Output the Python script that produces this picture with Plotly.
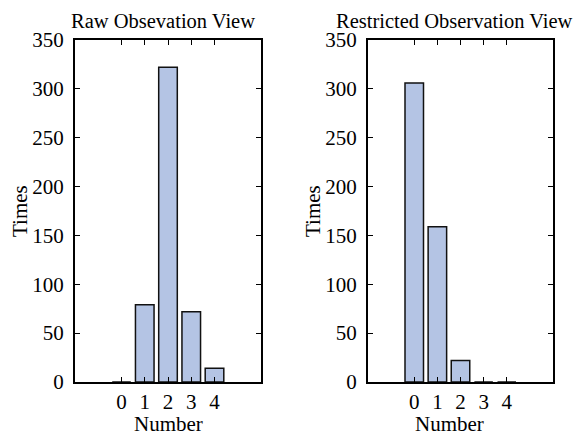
import plotly.graph_objects as go

categories = [0, 1, 2, 3, 4]
raw_counts = [0, 79, 322, 72, 14]
restricted_counts = [306, 159, 22, 0, 0]
y_ticks = [0, 50, 100, 150, 200, 250, 300, 350]
titles = ["Raw Obsevation View", "Restricted Observation View"]

W, H = 579, 436
FONT = "Liberation Serif"
FS = 21
bar_fill = "#B4C4E4"

fig = go.Figure()
fig.add_trace(go.Bar(x=categories, y=raw_counts, width=0.8, xaxis="x", yaxis="y",
                     marker=dict(color=bar_fill, line=dict(color="#111111", width=1.5)),
                     showlegend=False))
fig.add_trace(go.Bar(x=categories, y=restricted_counts, width=0.8, xaxis="x2", yaxis="y2",
                     marker=dict(color=bar_fill, line=dict(color="#111111", width=1.5)),
                     showlegend=False))

xd1 = [75 / W, 261 / W]
xd2 = [368 / W, 553 / W]
yd = [(H - 382) / H, (H - 40) / H]

common_x = dict(range=[-2, 6], tickvals=categories, ticktext=[str(c) for c in categories],
                ticks="inside", ticklen=5, tickwidth=1, tickcolor="#000",
                showline=True, linecolor="#000", linewidth=2, mirror="ticks",
                showgrid=False, zeroline=False, fixedrange=True, automargin=False,
                ticklabelstandoff=0,
                tickfont=dict(family=FONT, size=FS, color="#000"))
common_y = dict(range=[0, 350], tickvals=y_ticks,
                ticks="inside", ticklen=5, tickwidth=1, tickcolor="#000",
                showline=True, linecolor="#000", linewidth=2, mirror="ticks",
                showgrid=False, zeroline=False, fixedrange=True, automargin=False,
                ticklabelstandoff=5,
                tickfont=dict(family=FONT, size=FS, color="#000"))

fig.update_layout(
    width=W, height=H,
    margin=dict(l=0, r=0, t=0, b=0, autoexpand=False),
    paper_bgcolor="white", plot_bgcolor="white",
    bargap=0.2,
    xaxis=dict(domain=xd1, anchor="y", **common_x),
    yaxis=dict(domain=yd, anchor="x", **common_y),
    xaxis2=dict(domain=xd2, anchor="y2", **common_x),
    yaxis2=dict(domain=yd, anchor="x2", **common_y),
    font=dict(family=FONT, color="#000"),
)

title_cx = [162.5, 454]
number_cx = [168, 449]
ann = []
for i, (xd, t) in enumerate([(xd1, titles[0]), (xd2, titles[1])]):
    ann.append(dict(text=t, x=title_cx[i] / W, y=(H - 21) / H, xref="paper", yref="paper",
                    xanchor="center", yanchor="middle", showarrow=False,
                    font=dict(family=FONT, size=20.5, color="#000")))
    ann.append(dict(text="Number", x=number_cx[i] / W, y=(H - 424) / H, xref="paper", yref="paper",
                    xanchor="center", yanchor="middle", showarrow=False,
                    font=dict(family=FONT, size=FS, color="#000")))
    ann.append(dict(text="Times", x=(xd[0] * W - 55) / W, y=(H - 211) / H,
                    xref="paper", yref="paper", textangle=-90,
                    xanchor="center", yanchor="middle", showarrow=False,
                    font=dict(family=FONT, size=FS, color="#000")))
fig.update_layout(annotations=ann)

fig.write_html("out.html")
